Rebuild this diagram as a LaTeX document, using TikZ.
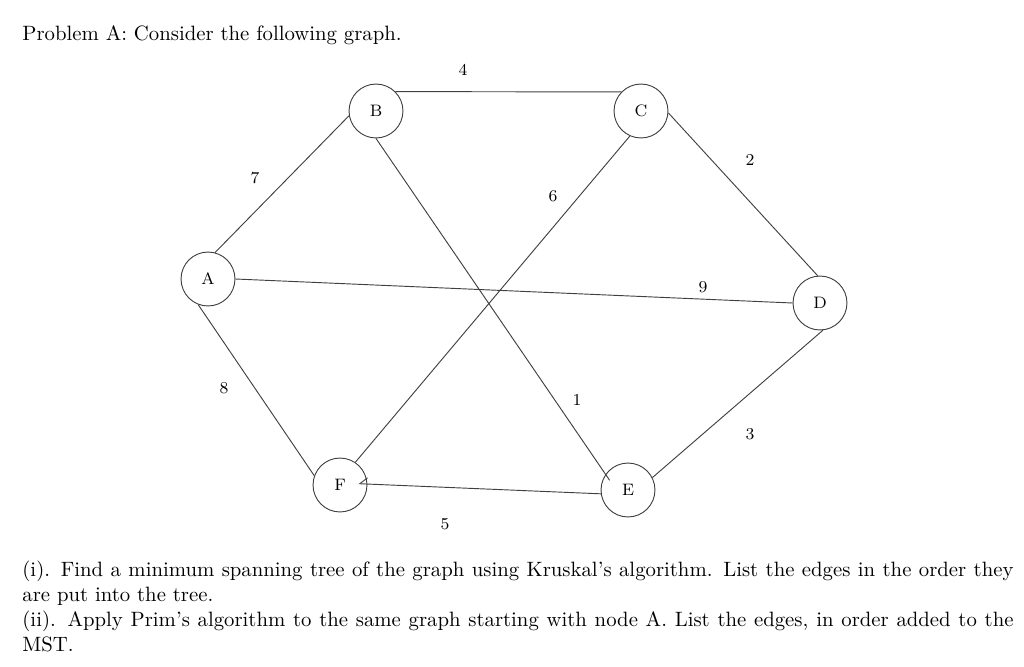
\documentclass[tikz,border=0pt]{standalone}
\usetikzlibrary{arrows.meta}
\begin{document}
\begin{tikzpicture}[x=0.482pt,y=-0.482pt,
  vertex/.style={circle,draw=black!75,line width=0.45pt,minimum size=26pt,inner sep=0pt,font=\footnotesize},
  edge/.style={draw=black!75,line width=0.45pt},
  wlabel/.style={font=\footnotesize,inner sep=0pt}]
\useasboundingbox (0,0) rectangle (1024,667);
\node[anchor=base west,inner sep=0pt] (title) at (22,40) {Problem A: Consider the following graph.};
% vertices
\node[vertex] (A) at (208,279) {A};
\node[vertex] (B) at (376,111) {B};
\node[vertex] (C) at (641,111) {C};
\node[vertex] (D) at (820,303) {D};
\node[vertex] (E) at (628,490) {E};
\node[vertex] (F) at (340,485) {F};
% edges
\draw[edge] (A.75) -- (B.190);
\draw[edge] (B.45) -- (C.136);
\draw[edge] (C.-4) -- (D.95);
\draw[edge] (A.east) -- (D.west);
\draw[edge,shorten >=-3.5pt] (B.south) -- (E.145);
\draw[edge] (C.246) -- (F.56);
\draw[edge] (D.-84) -- (E.27);
\draw[edge] (A.249) -- (F.160);
\draw[edge,-{Straight Barb[harpoon,swap,length=3.6pt,width=6pt]},shorten >=-4.3pt] (E.188) -- (F.2);
% weights
\node[wlabel] (w4) at (463,70) {4};
\node[wlabel] (w7) at (255,178) {7};
\node[wlabel] (w2) at (750,160) {2};
\node[wlabel] (w6) at (553,196) {6};
\node[wlabel] (w9) at (703,287) {9};
\node[wlabel] (w8) at (224,388) {8};
\node[wlabel] (w1) at (577,400) {1};
\node[wlabel] (w3) at (750,434) {3};
\node[wlabel] (w5) at (445,524) {5};
% question text
\node[anchor=north west,text width=477.7pt,align=justify,inner sep=0pt] (q) at (22,561)
{\setlength\parindent{0pt}(i). Find a minimum spanning tree of the graph using Kruskal's algorithm. List the edges in the order they are put into the tree.\par
(ii). Apply Prim's algorithm to the same graph starting with node A. List the edges, in order added to the MST.};
\end{tikzpicture}
\end{document}
